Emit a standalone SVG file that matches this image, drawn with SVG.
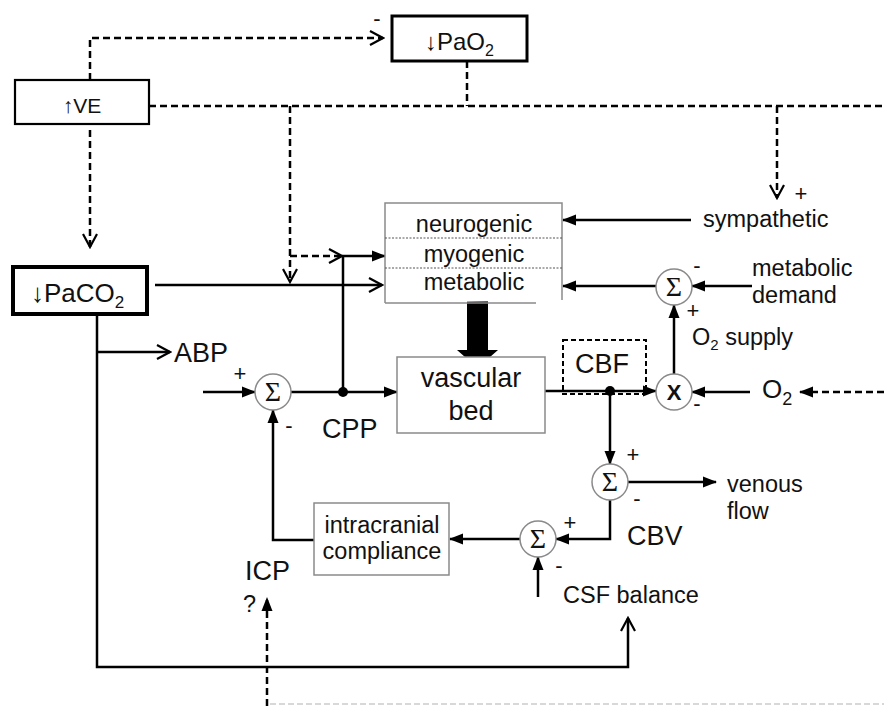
<svg xmlns="http://www.w3.org/2000/svg" width="884" height="706" viewBox="0 0 884 706">
<defs>
<marker id="fa" markerUnits="userSpaceOnUse" markerWidth="14" markerHeight="12" refX="13" refY="6" orient="auto"><path d="M0,0.5 L14,6 L0,11.5 z" fill="#000"/></marker>
<marker id="oa" markerUnits="userSpaceOnUse" markerWidth="16" markerHeight="16" refX="14" refY="8" orient="auto"><path d="M1,1 L14,8 L1,15" fill="none" stroke="#000" stroke-width="2.2"/></marker>
</defs>
<style>
text{font-family:"Liberation Sans",Arial,sans-serif;fill:#111}
.s{fill:none;stroke:#000;stroke-width:2.5}
.d{fill:none;stroke:#000;stroke-width:2.5;stroke-dasharray:7,4}
.gb{fill:#fff;stroke:#8a8a8a;stroke-width:1.5}
.sum{fill:#fff;stroke:#8a8a8a;stroke-width:1.5}
.sg{font-family:"Liberation Serif","DejaVu Serif",serif;font-size:28px;text-anchor:middle}
.l{font-size:23.5px}
.L{font-size:27px}
.pm{font-size:22px;text-anchor:middle}
.c{text-anchor:middle}
</style>
<rect width="884" height="706" fill="#fff"/>
<line x1="270" y1="704" x2="884" y2="704" stroke="#ccc" stroke-width="1.5" stroke-dasharray="6,3"/>
<g id="connectors">
<path class="d" d="M90,80 V38 H383" marker-end="url(#oa)"/>
<path class="d" d="M149,106 H884"/>
<path class="d" d="M467,61 V106"/>
<path class="d" d="M290,106 V282" marker-end="url(#oa)"/>
<path class="d" d="M290,256 H342" marker-end="url(#oa)"/>
<path class="s" d="M343,392 V256 H385" marker-end="url(#fa)"/>
<path class="d" d="M90,130 V247" marker-end="url(#oa)"/>
<path class="s" d="M155,285 H382" marker-end="url(#oa)"/>
<path class="s" d="M691,220 H563" marker-end="url(#fa)"/>
<path class="d" d="M777,106 V198" marker-end="url(#oa)"/>
<path class="s" d="M656,286 H563" marker-end="url(#fa)"/>
<path class="s" d="M752,286 H692" marker-end="url(#fa)"/>
<path class="s" d="M674,374 V305" marker-end="url(#fa)"/>
<path class="s" d="M750,392 H692" marker-end="url(#fa)"/>
<path class="d" d="M884,392 H800" marker-end="url(#fa)"/>
<path class="s" d="M545,391 H656" marker-end="url(#fa)"/>
<path class="s" d="M610,391 V464" marker-end="url(#fa)"/>
<path class="s" d="M628,482 H716" marker-end="url(#fa)"/>
<path class="s" d="M610,500 V539 H556" marker-end="url(#fa)"/>
<path class="s" d="M520,539 H450" marker-end="url(#fa)"/>
<path class="s" d="M538,597 V557" marker-end="url(#fa)"/>
<path class="s" d="M314,540 H273 V410" marker-end="url(#fa)"/>
<path class="s" d="M203,392 H255" marker-end="url(#fa)"/>
<path class="s" d="M291,392 H397" marker-end="url(#fa)"/>
<path class="s" d="M97,315 V667 H628 V618" marker-end="url(#oa)"/>
<path class="s" d="M97,352 H170" marker-end="url(#oa)"/>
<path class="d" d="M267,706 V598" marker-end="url(#fa)"/>
<circle cx="343" cy="392" r="5" fill="#000"/>
<circle cx="610" cy="391" r="5" fill="#000"/>
<polygon points="467,297 488,297 488,350 498,350 477.5,368 457,350 467,350" fill="#000"/>
</g>
<g id="ve"><rect x="15" y="80" width="134" height="44" fill="#fff" stroke="#000" stroke-width="2.2"/><text x="82" y="113" font-size="21" class="c">↑VE</text></g>
<g id="pao2"><rect x="392" y="16" width="135" height="45" fill="#fff" stroke="#000" stroke-width="3"/><text x="425" y="50" font-size="24">↓PaO<tspan font-size="16" dy="6">2</tspan></text></g>
<g id="paco2"><rect x="13" y="267" width="134" height="47" fill="#fff" stroke="#000" stroke-width="4"/><text x="31" y="302" font-size="26">↓PaCO<tspan font-size="17" dy="6">2</tspan></text></g>
<g id="mechanisms">
<path d="M385,303 V203 H562 V300" fill="#fff" stroke="#8a8a8a" stroke-width="1.5"/>
<line x1="385" y1="303" x2="536" y2="303" stroke="#8a8a8a" stroke-width="1.5"/>
<line x1="385" y1="238" x2="562" y2="238" stroke="#555" stroke-width="1" stroke-dasharray="2,1.5"/>
<line x1="385" y1="268" x2="562" y2="268" stroke="#555" stroke-width="1" stroke-dasharray="2,1.5"/>
<text x="474" y="232" class="l c">neurogenic</text>
<text x="474" y="262" class="l c">myogenic</text>
<text x="474" y="290" class="l c">metabolic</text>
</g>
<g id="vascular"><rect x="397" y="357" width="148" height="76" class="gb"/><text x="471" y="387" class="L c">vascular</text><text x="471" y="420" class="L c">bed</text></g>
<g id="cbf"><rect x="563" y="340" width="83" height="54" fill="none" stroke="#000" stroke-width="2" stroke-dasharray="5,3"/><text x="602" y="373" class="L c">CBF</text></g>
<g id="compliance"><rect x="314" y="503" width="135" height="72" class="gb"/><text x="382" y="533" class="l c">intracranial</text><text x="382" y="559" class="l c">compliance</text></g>
<g id="sum1"><circle cx="273" cy="392" r="18" class="sum"/><text x="273" y="401" class="sg">Σ</text></g>
<g id="sum2"><circle cx="674" cy="287" r="18" class="sum"/><text x="674" y="296" class="sg">Σ</text></g>
<g id="mult"><circle cx="674" cy="392" r="18" class="sum"/><text x="674" y="400" font-size="22" font-weight="bold" class="c">X</text></g>
<g id="sum3"><circle cx="610" cy="482" r="18" class="sum"/><text x="610" y="491" class="sg">Σ</text></g>
<g id="sum4"><circle cx="538" cy="539" r="18" class="sum"/><text x="538" y="548" class="sg">Σ</text></g>
<g id="labels">
<text x="377" y="26" class="pm">-</text>
<text x="174" y="362" class="L">ABP</text>
<text x="240" y="381" class="pm">+</text>
<text x="289" y="433" class="pm">-</text>
<text x="322" y="438" class="L">CPP</text>
<text x="245" y="580" class="L">ICP</text>
<text x="243" y="612" class="l">?</text>
<text x="703" y="227" class="l">sympathetic</text>
<text x="801" y="201" class="pm">+</text>
<text x="752" y="276" class="l">metabolic</text>
<text x="752" y="303" class="l">demand</text>
<text x="697" y="273" class="pm">-</text>
<text x="693" y="318" class="pm">+</text>
<text x="692" y="345" class="l">O<tspan font-size="15" dy="5">2</tspan><tspan dy="-5"> supply</tspan></text>
<text x="697" y="411" class="pm">-</text>
<text x="762" y="398" font-size="26">O<tspan font-size="18" dy="7">2</tspan></text>
<text x="633" y="462" class="pm">+</text>
<text x="637" y="506" class="pm">-</text>
<text x="727" y="492" class="l">venous</text>
<text x="727" y="519" class="l">flow</text>
<text x="570" y="530" class="pm">+</text>
<text x="627" y="545" class="L">CBV</text>
<text x="559" y="573" class="pm">-</text>
<text x="563" y="603" class="l">CSF balance</text>
</g>
</svg>
